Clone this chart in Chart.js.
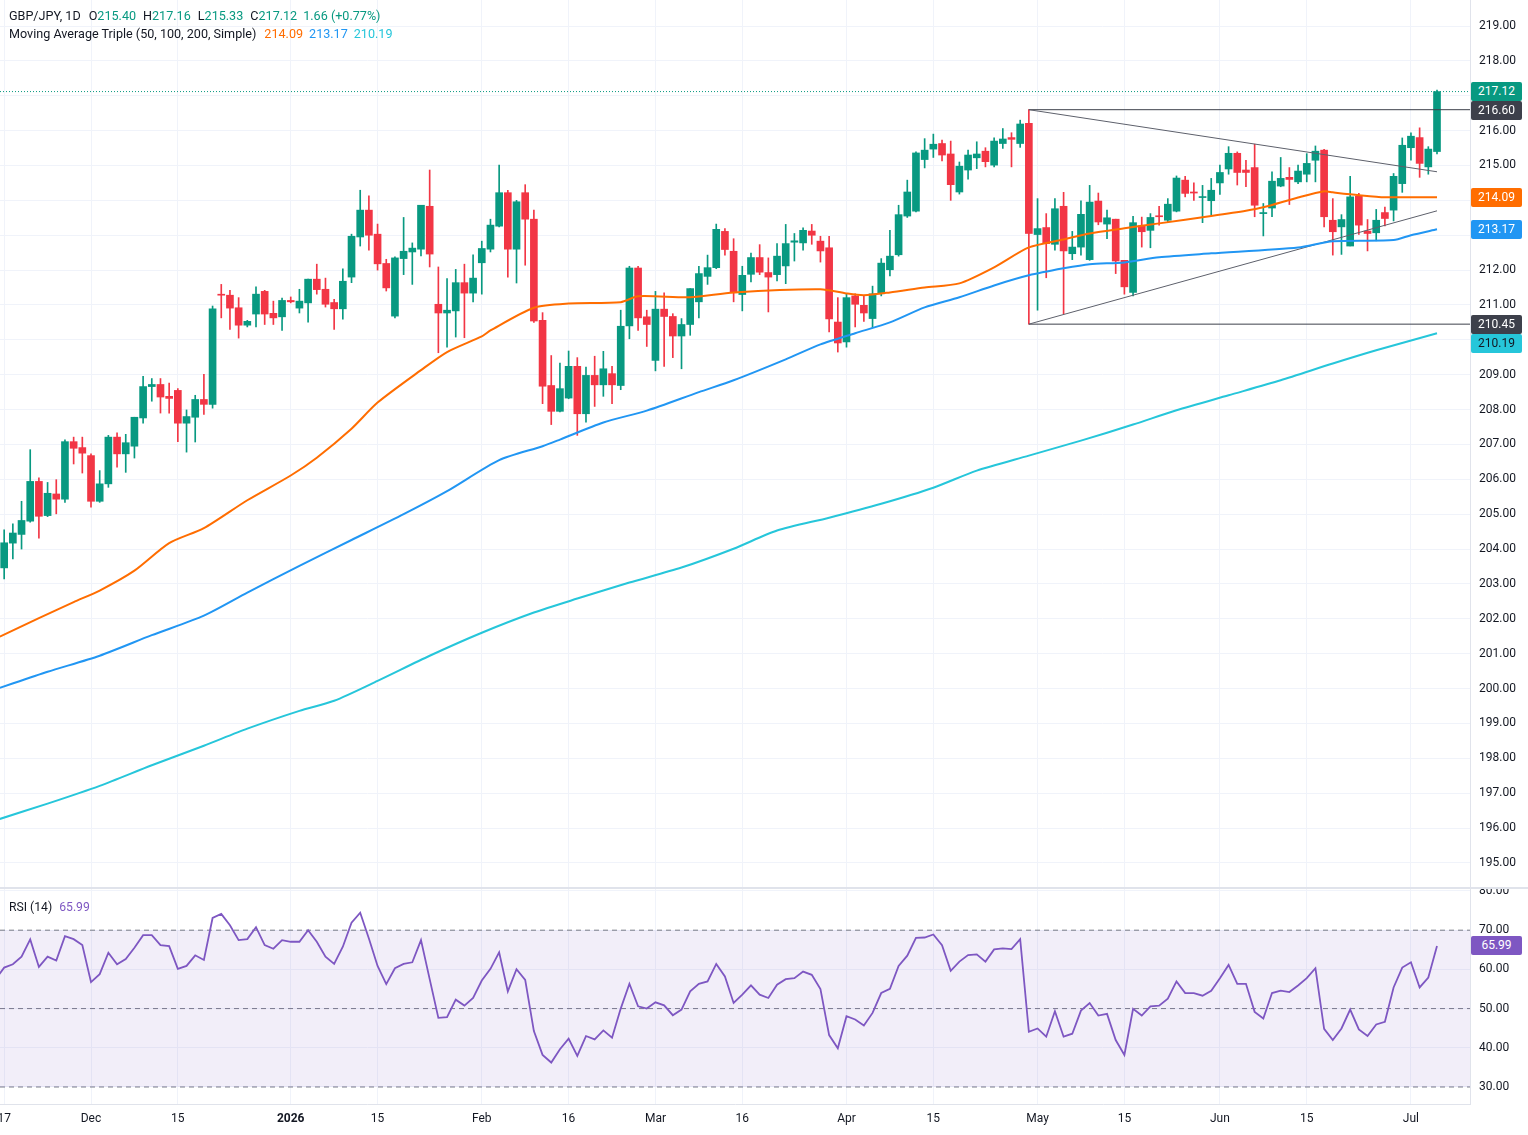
<!DOCTYPE html>
<html>
<head>
<meta charset="utf-8">
<script src="https://cdn.jsdelivr.net/npm/chart.js@4.4.1/dist/chart.umd.min.js"></script>
<style>
html,body{margin:0;padding:0;background:#fff;}
#wrap{position:relative;width:1528px;height:1135px;overflow:hidden;background:#fff;font-family:Roboto,'Liberation Sans',sans-serif;color:#131722;}
canvas{position:absolute;left:0;}
#c1{top:0;}
#c2{top:889px;}
.hdr{position:absolute;left:9px;font-size:12.6px;white-space:pre;line-height:16px;}
.g{color:#089981;}
.sep{position:absolute;left:0;width:1528px;height:2px;background:#e0e3eb;top:887px;}
.box{position:absolute;left:1471px;width:51px;height:19px;line-height:19px;text-align:center;font-size:12px;color:#fff;border-radius:2px;}
</style>
</head>
<body>
<div id="wrap">
<canvas id="c1" width="1528" height="889"></canvas>
<canvas id="c2" width="1528" height="246"></canvas>
<div class="sep"></div>
<div class="hdr" style="top:8px">GBP/JPY, 1D<span style="margin-left:8px">O</span><span class="g">215.40</span><span style="margin-left:7px">H</span><span class="g">217.16</span><span style="margin-left:7px">L</span><span class="g">215.33</span><span style="margin-left:7px">C</span><span class="g">217.12</span><span class="g" style="margin-left:6px">1.66 (+0.77%)</span></div>
<div class="hdr" style="top:26px">Moving Average Triple (50, 100, 200, Simple)<span style="margin-left:8px;color:#FF6D00">214.09</span><span style="margin-left:6px;color:#2196F3">213.17</span><span style="margin-left:6px;color:#26C6DA">210.19</span></div>
<div class="hdr" style="top:899px;font-size:12.2px">RSI (14)<span style="margin-left:7px;color:#7E57C2">65.99</span></div>
<div id="boxes"></div>
</div>
<script>
// ---------- DATA ----------
const firstBar = -10; // trading-day index of first candle (Nov 17); Dec 1 = 0
const opens = [203.46,204.17,204.42,204.80,205.94,204.96,205.58,205.43,207.08,206.91,
206.68,205.37,205.87,207.21,206.73,206.95,207.76,208.66,208.72,208.38,
208.55,207.61,207.78,208.29,208.15,211.30,211.28,210.92,210.42,210.74,
211.39,210.76,210.66,211.13,210.91,211.06,211.74,211.45,211.07,210.89,
211.80,212.95,213.72,213.03,212.19,210.68,212.33,212.52,212.60,213.83,
211.02,210.77,210.83,211.64,211.34,212.21,212.60,213.26,214.22,212.60,
214.22,213.46,210.56,208.69,207.95,208.33,209.24,207.88,208.98,208.71,
209.03,208.69,210.40,212.06,210.66,209.41,210.88,210.67,210.11,210.44,
211.09,211.82,212.07,213.11,212.54,211.30,211.88,212.36,211.93,211.87,
212.12,212.80,212.78,213.12,212.83,212.64,210.51,209.94,211.26,210.99,
210.61,211.32,212.01,212.44,213.55,213.69,215.17,215.47,215.63,215.33,
214.24,214.87,215.22,215.41,215.01,215.63,215.80,215.63,216.21,213.02,
213.22,212.74,213.83,212.47,212.66,212.30,213.98,213.32,213.46,212.28,
211.36,213.27,213.14,213.55,213.43,213.69,214.58,214.24,214.08,213.99,
214.50,214.90,215.35,214.87,214.94,213.62,213.78,214.41,214.66,214.53,
214.75,215.15,215.44,213.43,213.24,212.69,214.12,213.12,213.07,213.65,
213.72,214.48,215.51,215.80,214.96,215.40];
const highs = [204.55,204.72,205.37,206.85,206.04,205.91,205.99,207.13,207.21,207.21,
206.73,206.25,207.26,207.33,207.29,207.78,208.95,208.89,208.89,208.76,
208.60,207.99,208.41,209.01,210.97,211.59,211.42,211.21,210.56,211.52,
211.42,211.11,211.20,211.23,211.45,211.74,212.17,211.77,211.16,212.04,
213.03,214.29,214.13,213.32,212.31,212.38,213.51,212.78,213.86,214.87,
212.09,211.76,212.02,212.17,212.44,212.83,213.46,215.01,214.29,214.00,
214.45,213.72,210.78,209.55,209.33,209.68,209.49,209.22,209.53,209.67,
209.24,210.85,212.11,212.11,210.85,211.39,211.35,210.75,210.61,211.47,
212.11,212.43,213.32,213.19,212.90,212.11,212.49,212.73,212.35,212.76,
213.31,213.05,213.21,213.31,212.97,212.97,211.21,211.32,211.32,211.26,
211.54,212.33,213.14,213.86,214.58,215.39,215.77,215.90,215.73,215.70,
215.10,215.44,215.68,215.51,215.79,216.06,215.94,216.30,216.60,214.05,
213.62,214.05,214.23,213.11,213.99,214.43,214.21,213.72,213.46,212.28,
213.54,213.52,213.62,213.83,214.05,214.70,214.69,214.50,214.43,214.63,
215.01,215.54,215.39,215.15,215.61,213.91,214.82,215.23,214.94,215.01,
215.34,215.56,215.46,214.05,213.59,214.69,214.20,213.45,213.74,213.81,
214.77,215.79,215.94,216.08,215.54,217.16];
const lows = [203.14,203.72,204.00,204.77,204.31,204.93,205.01,205.34,206.44,206.18,
205.20,205.34,205.77,206.35,206.20,206.61,207.61,208.24,207.90,207.90,
207.08,206.78,207.07,207.86,208.04,210.63,210.30,210.05,210.37,210.37,
210.44,210.44,210.27,211.06,210.77,210.51,211.31,210.94,210.30,210.59,
211.64,212.69,212.57,212.00,211.40,210.63,211.87,211.59,212.41,212.09,
209.63,209.79,210.08,210.06,211.09,211.31,212.52,213.24,211.80,211.63,
212.14,210.50,208.17,207.57,207.93,208.31,207.26,207.64,208.09,208.38,
208.17,208.57,210.03,210.27,209.81,209.11,209.24,209.49,209.17,210.13,
210.63,211.59,212.04,212.43,211.09,210.83,211.66,211.87,210.80,211.69,
211.61,212.26,212.57,212.74,212.23,210.23,209.65,209.79,210.37,210.53,
210.35,211.26,211.83,212.40,213.51,213.67,214.93,215.23,215.13,214.00,
214.18,214.61,214.91,214.96,214.96,215.49,214.96,215.52,210.45,210.85,
211.78,212.57,210.75,212.30,212.43,212.28,213.30,212.90,211.90,211.31,
211.26,212.66,212.64,213.29,213.38,213.67,214.10,214.00,213.36,213.59,
214.17,214.75,214.44,214.39,213.53,212.98,213.53,214.39,213.88,214.48,
214.53,214.53,213.24,212.43,212.45,212.69,213.02,212.55,212.84,213.27,
213.41,214.23,215.15,214.66,214.75,215.33];
const closes = [204.18,204.46,204.82,205.94,204.94,205.60,205.43,207.08,206.89,206.75,
205.37,205.87,207.21,206.73,207.05,207.78,208.66,208.72,208.36,208.32,
207.61,207.80,208.29,208.15,210.89,211.28,210.91,210.42,210.53,211.31,
210.74,210.63,211.13,211.09,211.11,211.74,211.44,211.02,210.89,211.68,
212.97,213.72,213.00,212.18,211.49,212.35,212.54,212.63,213.86,212.46,
210.77,210.85,211.64,211.34,211.77,212.62,213.29,214.22,212.60,213.96,
213.46,210.54,208.67,207.95,208.60,209.24,207.88,208.98,208.71,209.17,
208.71,210.39,212.06,210.63,210.44,210.88,210.67,210.11,210.44,211.47,
211.90,212.07,213.17,212.59,211.35,211.85,212.36,211.94,211.80,212.40,
212.76,212.84,213.14,213.00,212.55,210.60,209.91,211.21,211.02,210.77,
211.32,212.20,212.40,213.59,214.24,215.36,215.44,215.61,215.30,214.45,
214.98,215.30,215.33,215.11,215.70,215.76,215.75,216.19,213.05,213.19,
212.76,213.76,212.55,212.66,213.60,213.95,213.38,213.50,212.26,211.52,
213.36,213.10,213.51,213.53,213.89,214.64,214.20,214.21,214.10,214.29,
214.80,215.35,214.80,214.80,213.86,213.65,214.55,214.63,214.60,214.84,
215.06,215.41,213.53,213.10,213.45,214.10,213.29,213.05,213.43,213.48,
214.69,215.58,215.84,215.06,215.47,217.12];

// Moving averages (bar index, value)
const ma50Bars = [-10.5,-6,-2,1,5,9,13,18,23,26,30,33,38,41,45,46,51,55,61,63,69,74,84,87,89,92,96,100,104,108,112,115,119,123,129,133,135,139,142,143,146,149,155];
const ma50Vals = [201.49,202.02,202.48,202.81,203.38,204.17,204.60,205.40,206.11,206.62,207.45,208.20,209.13,209.65,210.10,210.27,210.92,211.04,211.08,211.25,211.22,211.36,211.45,211.33,211.28,211.36,211.50,211.62,212.08,212.65,212.88,213.05,213.20,213.34,213.55,213.70,213.80,214.08,214.26,214.23,214.15,214.09,214.09];
const ma100Bars = [-10.5,-5,1,7,13,18,24,30,36,41,47,52,54,59,64,70,74,80,84,88,92,96,100,104,108,112,115,119,123,129,139,143,150,152,155];
const ma100Vals = [200.02,200.48,200.94,201.53,202.09,202.75,203.52,204.26,205.00,205.66,206.55,206.95,207.14,207.63,207.97,208.50,208.84,209.44,209.87,210.19,210.50,210.93,211.22,211.56,211.85,212.05,212.17,212.22,212.37,212.48,212.65,212.83,212.86,213.00,213.17];
const ma200Bars = [-10.5,-5,1,7,13,18,24,28,33,39,45,51,56,62,68,74,79,85,91,97,102,108,114,120,125,131,137,143,148,155];
const ma200Vals = [196.26,196.70,197.21,197.80,198.36,198.85,199.36,199.65,200.22,200.94,201.60,202.18,202.58,203.04,203.47,204.01,204.53,204.90,205.30,205.76,206.25,206.68,207.11,207.57,207.98,208.41,208.84,209.32,209.70,210.19];

// Triangle drawing
const trendBars = [108, 155];
const upperTrend = [216.60, 214.82];
const lowerTrend = [210.45, 213.70];
const levelValues = [216.60, 210.45];
const lastClose = 217.12;

// RSI (14)
const rsiFirstBar = -11;
const rsiVals = [57.5,60.46,61.31,63.25,67.64,60.63,63.25,62.24,68.48,67.72,66.20,
56.75,58.78,64.26,61.31,62.66,65.53,68.73,68.73,66.20,65.95,
60.13,60.89,63.59,62.41,73.12,74.14,71.27,67.47,67.72,70.76,
66.20,65.27,67.47,67.05,67.05,70.00,67.05,63.25,61.39,65.78,
71.94,74.47,67.89,60.89,56.24,60.30,61.39,61.81,67.47,57.51,
47.64,47.81,52.28,50.76,52.70,57.17,60.13,64.35,54.39,60.04,
57.34,44.26,38.19,36.24,39.62,42.32,37.93,43.00,42.15,44.43,
42.57,50.00,56.33,50.59,50.00,51.60,50.84,48.31,49.75,54.39,
56.33,56.92,61.39,58.19,51.43,53.54,55.91,53.54,52.70,56.08,
57.51,57.76,59.45,58.61,54.98,43.25,39.87,48.06,47.22,45.70,
48.90,53.97,55.06,60.89,63.50,68.06,68.14,68.90,66.20,59.62,
61.98,63.67,63.84,61.98,65.11,65.36,65.19,67.72,44.09,44.94,
42.83,49.32,42.83,43.59,49.49,51.43,48.23,48.65,41.98,38.19,
49.92,48.23,50.59,50.76,52.53,56.92,53.97,53.97,53.29,54.56,
57.76,61.14,56.33,56.33,49.16,47.47,53.97,54.56,54.22,55.91,
57.76,60.30,44.85,41.98,44.94,49.75,44.68,42.99,45.95,46.62,
55.40,60.46,61.81,55.40,57.93,65.99];
const rsiLevels = [70, 50, 30];

// Axes
const xTickBars = [-10,0,10,23,33,45,55,65,75,87,97,109,119,130,140,152];
const xTickLabels = ['17','Dec','15','2026','15','Feb','16','Mar','16','Apr','15','May','15','Jun','15','Jul'];
const priceTicks = [195,196,197,198,199,200,201,202,203,204,205,206,207,208,209,210,211,212,213,214,215,216,217,218,219];
const rsiTicks = [30,40,50,60,70,80];
const xMin = -10.48, xMax = 158.8;
const priceMin = 194.251, priceMax = 219.746;
const rsiMin = 25.66, rsiMax = 80.51;

// ---------- STYLE ----------
const UP = '#089981', DOWN = '#F23645';
const GRID = '#f0f3fa';
const FONT = {family: 'Roboto', size: 12};
const AXIS_W = 58;

const candleX = opens.map((_, k) => firstBar + k);
const candleCol = opens.map((o, k) => closes[k] >= o ? UP : DOWN);
const pts = (xs, ys) => xs.map((x, k) => ({x: x, y: ys[k]}));

function yAxisFit(s){ s.width = AXIS_W; s.paddingTop = 0; s.paddingBottom = 0; }

const xBase = {
  type: 'linear', min: xMin, max: xMax, offset: false,
  grid: {color: GRID, offset: false, drawTicks: false},
  border: {display: false},
  afterBuildTicks: (s) => { s.ticks = xTickBars.map(v => ({value: v})); }
};

Chart.defaults.font.family = 'Roboto';
Chart.defaults.color = '#131722';

const lineDs = (data, color, extra) => Object.assign({
  type: 'line', data: data, borderColor: color, borderWidth: 2, pointRadius: 0,
  fill: false, tension: 0.25, order: 1
}, extra || {});

const priceChart = new Chart(document.getElementById('c1'), {
  type: 'bar',
  data: {
    datasets: [
      {type: 'bar', data: candleX.map((x, k) => ({x: x, y: [lows[k], highs[k]]})),
       backgroundColor: candleCol, barThickness: 1, grouped: false, order: 4, borderWidth: 0},
      {type: 'bar', data: candleX.map((x, k) => ({x: x, y: [opens[k], closes[k]]})),
       backgroundColor: candleCol, barThickness: 7, minBarLength: 1, grouped: false, order: 3, borderWidth: 0},
      lineDs(pts(ma50Bars, ma50Vals), '#FF6D00'),
      lineDs(pts(ma100Bars, ma100Vals), '#2196F3'),
      lineDs(pts(ma200Bars, ma200Vals), '#26C6DA'),
      lineDs(pts(trendBars, upperTrend), '#5d606b', {borderWidth: 1, tension: 0, order: 2}),
      lineDs(pts(trendBars, lowerTrend), '#5d606b', {borderWidth: 1, tension: 0, order: 2}),
      lineDs([{x: trendBars[0], y: levelValues[0]}, {x: xMax, y: levelValues[0]}], '#3d404b', {borderWidth: 1, tension: 0, order: 2}),
      lineDs([{x: trendBars[0], y: levelValues[1]}, {x: xMax, y: levelValues[1]}], '#3d404b', {borderWidth: 1, tension: 0, order: 2}),
      lineDs([{x: xMin, y: lastClose}, {x: xMax, y: lastClose}], UP, {borderWidth: 1, tension: 0, borderDash: [1, 2], order: 2})
    ]
  },
  options: {
    animation: false, responsive: false, devicePixelRatio: 1,
    layout: {padding: 0},
    plugins: {legend: {display: false}, tooltip: {enabled: false}},
    scales: {
      x: Object.assign({}, xBase, {ticks: {display: false}, afterFit: (s) => { s.height = 0; s.paddingLeft = 0; s.paddingRight = 0; }}),
      y: {
        type: 'linear', position: 'right', min: priceMin, max: priceMax,
        grid: {color: GRID, drawTicks: false},
        border: {color: '#e0e3eb'},
        afterBuildTicks: (s) => { s.ticks = priceTicks.map(v => ({value: v})); },
        ticks: {font: FONT, color: '#131722', padding: 9, callback: (v) => Number(v).toFixed(2)},
        afterFit: yAxisFit
      }
    }
  }
});

const rsiChart = new Chart(document.getElementById('c2'), {
  type: 'line',
  data: {
    datasets: [
      {data: [{x: xMin, y: rsiLevels[0]}, {x: xMax, y: rsiLevels[0]}], borderColor: '#787B86', borderWidth: 1,
       borderDash: [5, 4], pointRadius: 0, fill: '+1', backgroundColor: 'rgba(126,87,194,0.1)', order: 3},
      {data: [{x: xMin, y: rsiLevels[2]}, {x: xMax, y: rsiLevels[2]}], borderColor: '#787B86', borderWidth: 1,
       borderDash: [5, 4], pointRadius: 0, fill: false, order: 3},
      {data: [{x: xMin, y: rsiLevels[1]}, {x: xMax, y: rsiLevels[1]}], borderColor: '#787B86', borderWidth: 1,
       borderDash: [5, 4], pointRadius: 0, fill: false, order: 3},
      {data: rsiVals.map((v, k) => ({x: rsiFirstBar + k, y: v})), borderColor: '#7E57C2', borderWidth: 1.8,
       pointRadius: 0, fill: false, tension: 0, order: 1}
    ]
  },
  options: {
    animation: false, responsive: false, devicePixelRatio: 1,
    layout: {padding: 0},
    plugins: {legend: {display: false}, tooltip: {enabled: false}},
    scales: {
      x: Object.assign({}, xBase, {
        border: {display: true, color: '#e0e3eb'},
        ticks: {autoSkip: false, maxRotation: 0, padding: 8, color: '#131722',
          font: (c) => ({family: 'Roboto', size: 12, weight: (c.tick && c.tick.label === '2026') ? 'bold' : 'normal'}),
          callback: (v, i) => xTickLabels[i]},
        afterFit: (s) => { s.height = 31; s.paddingLeft = 0; s.paddingRight = 0; }
      }),
      y: {
        type: 'linear', position: 'right', min: rsiMin, max: rsiMax,
        grid: {color: GRID, drawTicks: false},
        border: {color: '#e0e3eb'},
        afterBuildTicks: (s) => { s.ticks = rsiTicks.map(v => ({value: v})); },
        ticks: {font: FONT, color: '#131722', padding: 9, callback: (v) => Number(v).toFixed(2)},
        afterFit: yAxisFit
      }
    }
  }
});

// ---------- price-scale labels (placed through the chart scales) ----------
const priceBoxes = [
  {v: lastClose, bg: UP, fg: '#fff'},
  {v: levelValues[0], bg: '#3d404b', fg: '#fff'},
  {v: ma50Vals[ma50Vals.length - 1], bg: '#FF6D00', fg: '#fff'},
  {v: ma100Vals[ma100Vals.length - 1], bg: '#2196F3', fg: '#fff'},
  {v: levelValues[1], bg: '#3d404b', fg: '#fff'},
  {v: ma200Vals[ma200Vals.length - 1], bg: '#26C6DA', fg: '#131722'}
];
const holder = document.getElementById('boxes');
const H = 19;
let prevBottom = -1e9;
priceBoxes.map(b => Object.assign({}, b, {p: priceChart.scales.y.getPixelForValue(b.v)}))
  .sort((a, b) => a.p - b.p)
  .forEach(b => {
    let top = Math.max(b.p - H / 2, prevBottom);
    prevBottom = top + H;
    const d = document.createElement('div');
    d.className = 'box';
    d.style.top = top + 'px';
    d.style.background = b.bg;
    d.style.color = b.fg;
    d.textContent = b.v.toFixed(2);
    holder.appendChild(d);
  });
const rsiLast = rsiVals[rsiVals.length - 1];
const rp = 889 + rsiChart.scales.y.getPixelForValue(rsiLast);
const rd = document.createElement('div');
rd.className = 'box';
rd.style.top = (rp - H / 2) + 'px';
rd.style.background = '#7E57C2';
rd.textContent = rsiLast.toFixed(2);
holder.appendChild(rd);
</script>
</body>
</html>
